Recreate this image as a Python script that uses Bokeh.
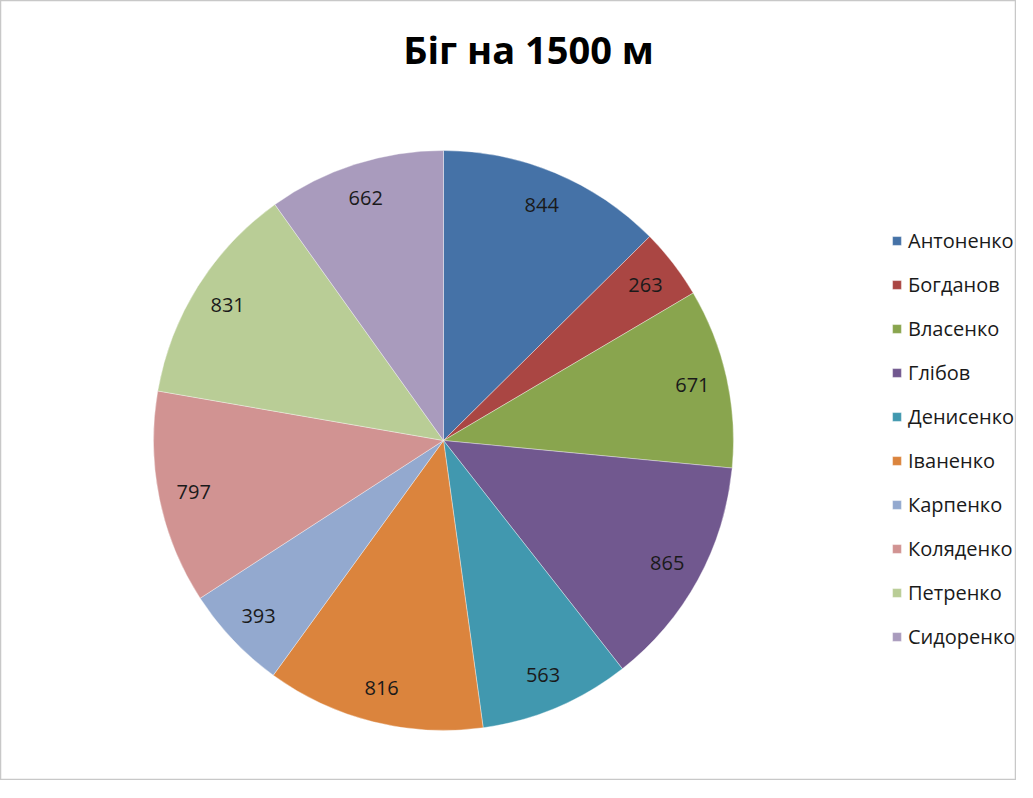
import math
from bokeh.plotting import figure
from bokeh.models import ColumnDataSource, Range1d, Legend, LegendItem
from bokeh.core.properties import value
from bokeh.embed import file_html
from bokeh.resources import INLINE

# ---- data ----
title_text = "Біг на 1500 м"
names = ["Антоненко", "Богданов", "Власенко", "Глібов", "Денисенко",
         "Іваненко", "Карпенко", "Коляденко", "Петренко", "Сидоренко"]
values = [844, 263, 671, 865, 563, 816, 393, 797, 831, 662]
colors = ["#4572A7", "#AA4643", "#89A54E", "#71588F", "#4198AF",
          "#DB843D", "#93A9CF", "#D19392", "#B9CD96", "#A99BBD"]

# ---- layout ----
W, H = 1016, 780
cx, cy, R = 443, 340, 290
label_r = 255
FONT = "Open Sans"

total = float(sum(values))
starts, ends, lx, ly = [], [], [], []
cum = 0.0
for v in values:
    a0 = math.pi / 2 - cum / total * 2 * math.pi
    cum += v
    a1 = math.pi / 2 - cum / total * 2 * math.pi
    starts.append(a0)
    ends.append(a1)
    mid = (a0 + a1) / 2
    lx.append(cx + label_r * math.cos(mid))
    ly.append(cy + label_r * math.sin(mid))

src = ColumnDataSource(dict(name=names, value=values, color=colors,
                            start=starts, end=ends, lx=lx, ly=ly,
                            txt=[str(v) for v in values]))

p = figure(width=W, height=H, output_backend="svg", toolbar_location=None,
           x_range=Range1d(0, W), y_range=Range1d(0, H),
           x_axis_type=None, y_axis_type=None, min_border=0)
p.grid.visible = False
p.outline_line_color = "#c8c8c8"
p.outline_line_width = 1.5
p.background_fill_color = "white"
p.border_fill_color = "white"

r = p.wedge(x=cx, y=cy, radius=R, start_angle="start", end_angle="end",
            direction="clock", fill_color="color", line_color="white",
            line_width=0.6, line_alpha=0.6, source=src)

p.text(x="lx", y="ly", text="txt", source=src, text_align="center",
       text_baseline="middle", text_font=value(FONT), text_font_size="20px",
       text_color="#1a1a1a")

p.text(x=[528], y=[732], text=[title_text], text_align="center",
       text_baseline="middle", text_font=value(FONT), text_font_size="38px",
       text_font_style="bold", text_color="black")

items = [LegendItem(label=n, renderers=[r], index=i) for i, n in enumerate(names)]
legend = Legend(items=items, location=(891, 130), padding=0, margin=0,
                border_line_color=None, background_fill_alpha=0,
                glyph_width=11, glyph_height=11, label_standoff=6,
                label_height=24, spacing=17,
                label_text_font=FONT, label_text_font_size="20px",
                label_text_color="#1a1a1a")
p.add_layout(legend, "center")

open("out.html", "w").write(file_html(p, INLINE))
